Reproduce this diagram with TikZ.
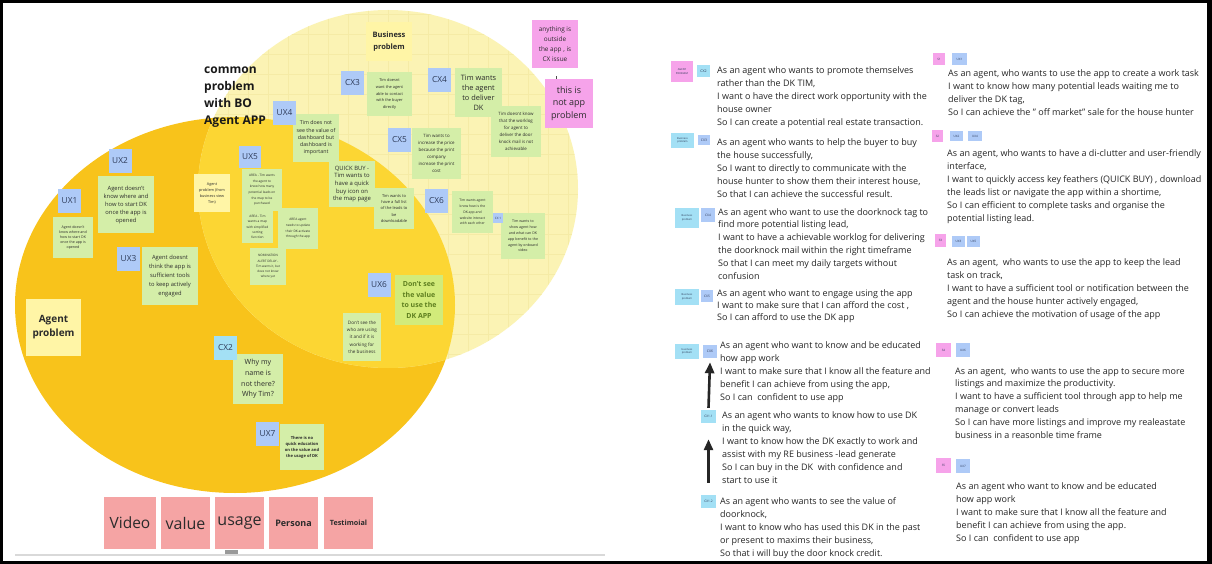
\documentclass[tikz,border=0pt]{standalone}
\usepackage{fontspec}
\setmainfont{Open Sans}
\usetikzlibrary{arrows.meta}
\definecolor{orangeC}{HTML}{F8C31B}
\definecolor{interC}{HTML}{FCD633}
\definecolor{lightC}{HTML}{FBF3B4}
\definecolor{gridC}{HTML}{F5EBA6}
\definecolor{greenN}{HTML}{D4EEA8}
\definecolor{limeN}{HTML}{D2EB7A}
\definecolor{oliveT}{HTML}{5E7F1F}
\definecolor{periT}{HTML}{AECAF7}
\definecolor{cyanT}{HTML}{A3E0F5}
\definecolor{yellowN}{HTML}{FFF5A6}
\definecolor{pinkN}{HTML}{F6A3EA}
\definecolor{salmonN}{HTML}{F5A4A4}
\definecolor{tagText}{HTML}{2D3A58}
\definecolor{inkC}{HTML}{2B2B2B}
\begin{document}
\begin{tikzpicture}[x=1pt,y=-1pt,
 box/.style={inner sep=1pt, align=center, text=inkC},
 gnote/.style={box, fill=greenN},
 ynote/.style={box, fill=yellowN},
 pnote/.style={box, fill=pinkN},
 snote/.style={box, fill=salmonN, minimum height=52pt, minimum width=49pt},
 ptag/.style={box, fill=periT, text=tagText, minimum width=23pt, minimum height=24pt, font=\fontsize{8.3}{10}\selectfont},
 ctag/.style={ptag, fill=cyanT},
 mini/.style={box, inner sep=0pt, text=tagText, font=\fontsize{3}{3.6}\selectfont},
 story/.style={inner sep=0pt, anchor=north west, align=left, text=black!85, font=\fontsize{9}{13}\selectfont},
 bigarrow/.style={draw=black!85, line width=2.6pt, -{Triangle[length=11pt,width=9pt]}},
 gridline/.style={draw=gridC, line width=0.4pt}
]
\fill[black] (0,0) rectangle (1212,564);
\fill[white] (3,3) rectangle (1207,561);
\useasboundingbox (0,0) rectangle (1212,564);

% circles
\fill[orangeC] (235,305) ellipse [x radius=220pt, y radius=188pt];
\fill[lightC] (388,189) ellipse [x radius=190pt, y radius=179pt];
\begin{scope}
\clip (388,189) ellipse [x radius=190pt, y radius=179pt];
\foreach \gx in {208,228,...,578} \draw[gridline] (\gx,5) -- (\gx,372);
\foreach \gy in {14,34,...,374} \draw[gridline] (195,\gy) -- (580,\gy);
\clip (235,305) ellipse [x radius=220pt, y radius=188pt];
\fill[interC] (388,189) ellipse [x radius=190pt, y radius=179pt];
\end{scope}

% bottom rule
\draw[draw=black!15, line width=1.5pt] (15,555) -- (605,555);
\fill[black!40] (225,550) rectangle (238,554);

% headings
\node[anchor=north west, align=left, inner sep=0pt, font=\fontsize{12}{17}\selectfont\bfseries, text=black!90] (common) at (204,67) {common\\problem\\with BO\\Agent APP};
\node[ynote, minimum width=46pt, minimum height=39pt, font=\fontsize{7.5}{11.5}\selectfont\bfseries] (bizprob) at (389,41.5) {Business\\problem};
\node[ynote, minimum width=55pt, minimum height=57pt, font=\fontsize{10}{14}\selectfont\bfseries] (agentprob) at (53.5,327.5) {Agent\\problem};
\node[ynote, minimum width=36pt, minimum height=38pt, font=\fontsize{3.8}{6}\selectfont] (agentbv) at (212,193) {Agent\\problem (from\\business view\\Tim)};

% green notes
\node[gnote, minimum width=46pt, minimum height=48pt, font=\fontsize{5.3}{7.3}\selectfont] (nux4) at (316,138) {Tim does not\\see the value of\\dashboard but\\dashboard is\\important};
\node[gnote, minimum width=56pt, minimum height=57pt, font=\fontsize{5.8}{8}\selectfont] (nux2) at (126,204.5) {Agent doesn't\\know where and\\how to start DK\\once the app is\\opened};
\node[gnote, minimum width=40pt, minimum height=41pt, font=\fontsize{3.6}{5.2}\selectfont] (nux1) at (73,237.5) {Agent doesn't\\know where and\\how to start DK\\once the app is\\opened};
\node[gnote, minimum width=56pt, minimum height=58pt, font=\fontsize{5.8}{8.8}\selectfont] (nux3) at (170,276) {Agent doesnt\\think the app is\\sufficient tools\\to keep actively\\engaged};
\node[gnote, minimum width=40pt, minimum height=42pt, font=\fontsize{3.2}{5.6}\selectfont] (area1) at (262,190) {AREA - Tim wants\\the agent to\\know how many\\potential leads on\\the map to be\\purchased};
\node[gnote, minimum width=31pt, minimum height=32pt, font=\fontsize{3.2}{5.4}\selectfont] (area2) at (257.5,227) {AREA - Tim\\wants a map\\with simplified\\sorting\\function};
\node[gnote, minimum width=40pt, minimum height=41pt, font=\fontsize{3.2}{5.6}\selectfont] (area3) at (298,228.5) {AREA agent\\needs to update\\their DK activate\\through the app};
\node[gnote, minimum width=36pt, minimum height=37pt, font=\fontsize{3.1}{5.2}\selectfont] (nomin) at (268,266.5) {NOMINATION\\ALERT DELAY -\\Tim wants it, but\\does not know\\where yet};
\node[gnote, minimum width=46pt, minimum height=46pt, font=\fontsize{5.9}{7.7}\selectfont] (quick) at (352,184) {QUICK BUY -\\Tim wants to\\have a quick\\buy icon on\\the map page};
\node[gnote, minimum width=40pt, minimum height=41pt, font=\fontsize{4}{6.2}\selectfont] (fulllist) at (394,208.5) {Tim wants to\\have a full list\\of the leads to\\be\\downloadable};
\node[gnote, minimum width=45pt, minimum height=44pt, font=\fontsize{3.9}{6.6}\selectfont] (ncx3) at (389.5,94) {Tim doesnt\\want the agent\\able to contact\\with the buyer\\directly};
\node[gnote, minimum width=49pt, minimum height=51pt, font=\fontsize{4.4}{7}\selectfont] (ncx5) at (436.5,153.5) {Tim wants to\\increase the price\\because the print\\company\\increase the print\\cost};
\node[gnote, minimum width=47pt, minimum height=49pt, font=\fontsize{7.4}{10}\selectfont] (ncx4a) at (478.5,92.5) {Tim wants\\the agent\\to deliver\\DK};
\node[gnote, minimum width=50pt, minimum height=51pt, font=\fontsize{4.4}{7}\selectfont] (ncx4b) at (516,131.5) {Tim doesnt know\\that the worklog\\for agent to\\deliver the door\\knock mail is not\\achievable};
\node[gnote, minimum width=41pt, minimum height=42pt, font=\fontsize{3.4}{5.8}\selectfont] (ncx6) at (472.5,212) {Tim wants agent\\know how is the\\DK app and\\website interact\\with each other};
\node[gnote, minimum width=44pt, minimum height=46pt, font=\fontsize{3.6}{5.8}\selectfont] (onboard) at (523,236) {Tim wants to\\show agent how\\and what can DK\\app benefit to the\\agent by onboard\\video};
\node[box, fill=limeN, text=oliveT, minimum width=48pt, minimum height=50pt, font=\fontsize{7}{10.5}\selectfont\bfseries] (nux6) at (419,300) {Don't see\\the value\\to use the\\DK APP};
\node[gnote, minimum width=38pt, minimum height=48pt, font=\fontsize{4.6}{7.3}\selectfont] (dontsee) at (362,337) {Don't see the\\who are using\\it and if it is\\working for\\the business};
\node[gnote, minimum width=50pt, minimum height=50pt, font=\fontsize{7.1}{10.7}\selectfont] (ncx2) at (258,379) {Why my\\name is\\not there?\\Why Tim?};
\node[gnote, minimum width=44pt, minimum height=46pt, font=\fontsize{4.1}{6}\selectfont\bfseries] (nux7) at (302,447) {There is no\\quick education\\on the value and\\the usage of DK};

% tags left
\node[ptag] (ux4) at (284.5,113) {UX4};
\node[ptag] (ux2) at (120,161) {UX2};
\node[ptag] (ux1) at (69.5,201) {UX1};
\node[ptag] (ux3) at (128.5,259) {UX3};
\node[ptag, minimum width=22pt, minimum height=22pt] (ux5) at (250,157) {UX5};
\node[ptag] (cx3) at (352.5,83) {CX3};
\node[ptag] (cx4) at (439.5,80) {CX4};
\node[ptag] (cx5) at (399.5,140) {CX5};
\node[ptag] (cx6) at (436.5,201) {CX6};
\node[mini, fill=periT, minimum width=10pt, minimum height=10pt] (cx1s) at (498,218) {CX 1};
\node[ptag] (ux6) at (379,285) {UX6};
\node[ctag] (cx2) at (225.5,348) {CX2};
\node[ptag] (ux7) at (267.5,434) {UX7};

% pink notes
\node[pnote, minimum width=46pt, minimum height=48pt, font=\fontsize{6.4}{10}\selectfont] (cxissue) at (555,44) {anything is\\outside\\the app , is\\CX issue};
\node[pnote, minimum width=48pt, minimum height=49pt, font=\fontsize{9}{12.6}\selectfont] (notapp) at (569,103.5) {this is\\not app\\problem};
\draw[black!70, line width=0.6pt] ([xshift=1pt]cxissue.south) ++(0,-8pt) -- ([xshift=1pt]cxissue.south |- notapp.north);

% salmon boxes
\node[snote, minimum width=52pt, font=\fontsize{15.5}{18}\selectfont] (video) at (130,523) {Video};
\node[snote, font=\fontsize{16}{18}\selectfont] (value) at (185.5,523) {value};
\node[snote, font=\fontsize{16}{18}\selectfont] (usage) at (239.5,523) {usage};
\node[snote, font=\fontsize{9}{11}\selectfont\bfseries] (persona) at (293.5,523) {Persona};
\node[snote, font=\fontsize{7.2}{9}\selectfont\bfseries] (testim) at (348.5,523) {Testimoial};

% right panel tags
\node[mini, fill=pinkN, minimum width=22pt, minimum height=21pt, font=\fontsize{2.6}{3.4}\selectfont] (agtag) at (682,71.5) {AGENT\\PROBLEM};
\node[mini, fill=cyanT, minimum width=13pt, minimum height=12pt, font=\fontsize{3.6}{4}\selectfont] (tcx2) at (703.5,71) {CX2};
\node[mini, fill=cyanT, minimum width=23pt, minimum height=15pt, font=\fontsize{2.6}{3.4}\selectfont] (bp1) at (682.5,140.5) {Business\\problem};
\node[mini, fill=periT, minimum width=12pt, minimum height=10pt, font=\fontsize{3.4}{4}\selectfont] (tcx3) at (704,140) {CX3};
\node[mini, fill=cyanT, minimum width=24pt, minimum height=20pt, font=\fontsize{2.6}{3.4}\selectfont] (bp2) at (687,218) {Business\\problem};
\node[mini, fill=periT, minimum width=14pt, minimum height=14pt, font=\fontsize{3.2}{4}\selectfont] (tcx4) at (708,215) {CX4};
\node[mini, fill=cyanT, minimum width=24pt, minimum height=16pt, font=\fontsize{2.6}{3.4}\selectfont] (bp3) at (687,297) {Business\\problem};
\node[mini, fill=periT, minimum width=12pt, minimum height=12pt, font=\fontsize{3.2}{4}\selectfont] (tcx5) at (707,296) {CX5};
\node[mini, fill=cyanT, minimum width=24pt, minimum height=15pt, font=\fontsize{2.6}{3.4}\selectfont] (bp4) at (687,351.5) {business\\problem};
\node[mini, fill=periT, minimum width=14pt, minimum height=13pt, font=\fontsize{3.4}{4}\selectfont] (tcx6) at (710,351.5) {CX6};
\node[mini, fill=cyanT, minimum width=15pt, minimum height=13pt, font=\fontsize{3.2}{4}\selectfont] (tcx11) at (708.5,416.5) {CX1.1};
\node[mini, fill=cyanT, minimum width=15pt, minimum height=13pt, font=\fontsize{3.2}{4}\selectfont] (tcx12) at (708.5,501.5) {CX1.2};

\node[mini, fill=pinkN, minimum width=12pt, minimum height=12pt] (s1) at (939,59) {S1};
\node[mini, fill=periT, minimum width=15pt, minimum height=12pt] (tux1) at (959.5,59) {UX1};
\node[mini, fill=pinkN, minimum width=11pt, minimum height=12pt] (s2) at (937.5,136) {S2};
\node[mini, fill=periT, minimum width=13pt, minimum height=10pt] (tux2) at (956.5,136) {UX2};
\node[mini, fill=periT, minimum width=14pt, minimum height=10pt] (tux4) at (975,136) {UX4};
\node[mini, fill=pinkN, minimum width=11pt, minimum height=13pt] (s3) at (940.5,240.5) {S3};
\node[mini, fill=periT, minimum width=13pt, minimum height=11pt] (tux3) at (958.5,241.5) {UX3};
\node[mini, fill=periT, minimum width=13pt, minimum height=11pt] (tux5) at (973.5,241.5) {UX5};
\node[mini, fill=pinkN, minimum width=15pt, minimum height=14pt] (s4) at (943.5,350) {S4};
\node[mini, fill=periT, minimum width=14pt, minimum height=14pt] (tux6) at (963,350) {UX6};
\node[mini, fill=pinkN, minimum width=15pt, minimum height=15pt] (s5) at (943.5,465.5) {S5};
\node[mini, fill=periT, minimum width=14pt, minimum height=14pt] (tux7) at (963,466) {UX7};

% arrows
\draw[bigarrow] ([yshift=2pt]tcx11.north) -- ([yshift=-4pt]tcx6.south);
\draw[bigarrow] ([yshift=12pt]tcx12.north) -- ([yshift=-16pt]tcx11.south);

% stories left column
\node[story] (b1) at (717,66) {As an agent who wants to promote themselves\\rather than the DK TIM,\\I want o have the direct work opportunity with the\\house owner\\So I can create a potential real estate transaction.};
\node[story] (b2) at (717,138) {As an agent who wants to help the buyer to buy\\the house successfully,\\So I want to directly to communicate with the\\house hunter to show them their interest house,\\So that I can achieve the successful result.};
\node[story, font=\fontsize{9}{12.9}\selectfont] (b3) at (718,208) {As an agent who want to use the doorknock tag to\\find more potential listing lead,\\I want to have a achievable worklog for delivering\\the doorknock mail within the right timeframe\\So that I can meet my daily targets without\\confusion};
\node[story, font=\fontsize{9}{12.3}\selectfont] (b4) at (717,289) {As an agent who want to engage using the app\\I want to make sure that I can afford the cost ,\\So I can afford to use the DK app};
\node[story] (b5) at (720,341) {As an agent who want to know and be educated\\how app work\\I want to make sure that I know all the feature and\\benefit I can achieve from using the app,\\So I can\ \ confident to use app};
\node[story] (b6) at (722,411) {As an agent who wants to know how to use DK\\in the quick way,\\I want to know how the DK exactly to work and\\assist with my RE business -lead generate\\So I can buy in the DK\ \ with confidence and\\start to use it};
\node[story] (b7) at (720,497) {As an agent who wants to see the value of\\doorknock,\\I want to know who has used this DK in the past\\or present to maxims their business,\\So that i will buy the door knock credit.};

% stories right column
\node[story] (r1) at (948,69) {As an agent, who wants to use the app to create a work task\\I want to know how many potential leads waiting me to\\deliver the DK tag,\\So I can achieve the " off market" sale for the house hunter};
\node[story] (r2) at (947,149) {As an agent, who wants to have a di-clutter and user-friendly\\interface,\\I want to quickly access key feathers (QUICK BUY) , download\\the leads list or navigate the app within a shortime,\\So I can efficient to complete tasks and organise the\\potential listing lead.};
\node[story, font=\fontsize{9}{13.2}\selectfont] (r3) at (947,258) {As an agent,\ \ who wants to use the app to keep the lead\\task on track,\\I want to have a sufficient tool or notification between the\\agent and the house hunter actively engaged,\\So I can achieve the motivation of usage of the app};
\node[story, font=\fontsize{9}{12.8}\selectfont] (r4) at (955,367) {As an agent,\ \ who wants to use the app to secure more\\listings and maximize the productivity.\\I want to have a sufficient tool through app to help me\\manage or convert leads\\So I can have more listings and improve my realeastate\\business in a reasonble time frame};
\node[story] (r5) at (956,482) {As an agent who want to know and be educated\\how app work\\I want to make sure that I know all the feature and\\benefit I can achieve from using the app.\\So I can\ \ confident to use app};
\end{tikzpicture}
\end{document}
